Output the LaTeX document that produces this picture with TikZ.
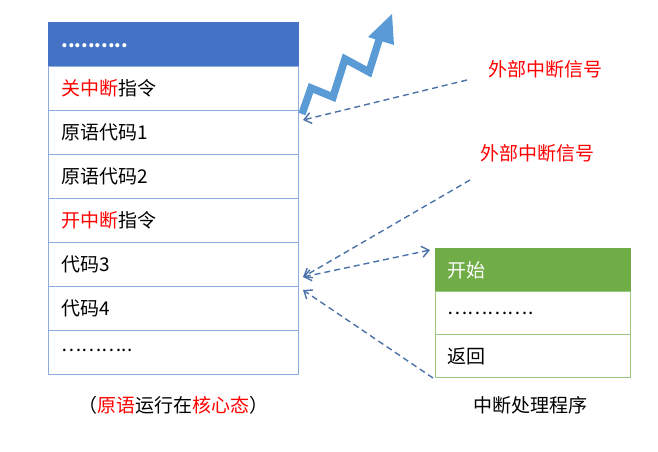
\documentclass[tikz,border=0pt]{standalone}
\usepackage{fontspec}
\setmainfont{Noto Sans CJK SC}
\usetikzlibrary{arrows.meta}
\definecolor{hdr}{HTML}{4472C4}
\definecolor{grn}{HTML}{70AD47}
\definecolor{ln}{HTML}{8FAADC}
\definecolor{dsh}{HTML}{4A72A8}
\definecolor{bolt}{HTML}{5B9BD5}
\tikzset{
 cell/.style={draw=ln,line width=0.8pt,minimum width=250pt,minimum height=44pt,anchor=north west,inner sep=0pt,align=left},
 rcell/.style={draw=grn!70,line width=0.8pt,minimum width=195pt,minimum height=43pt,anchor=north west},
 da/.style={dash pattern=on 6pt off 4pt,line width=1.4pt,draw=dsh,-{Straight Barb[length=7pt,width=11pt]}},
 lbl/.style={font=\fontsize{19}{22}\selectfont}
}
\begin{document}
\begin{tikzpicture}[x=1pt,y=-1pt]
\useasboundingbox (0,0) rectangle (658,451);
\node[cell,fill=hdr,draw=hdr,text=white] (h) at (48,22) {};
\node[white,font=\fontsize{19}{22}\selectfont\bfseries,anchor=west] at (58,46) {..........};
\foreach \i/\t in {1/{\textcolor{red}{关中断}指令},2/{原语代码1},3/{原语代码2},4/{\textcolor{red}{开中断}指令},5/{代码3},6/{代码4},7/{}}{
 \node[cell] (r\i) at (48,{22+44*\i}) {};
 \node[lbl,anchor=west] (t\i) at (58,{44+44*\i}) {\t};
}
\node[lbl,anchor=west] at (58,350) {………..};
\node[rcell,fill=grn,draw=grn] (g1) at (435,248) {};
\node[lbl,anchor=west,text=white] at (444,270) {开始};
\node[rcell] (g2) at (435,291) {};
\node[lbl,anchor=west] at (444,313) {………….};
\node[rcell] (g3) at (435,334) {};
\node[lbl,anchor=west] at (444,356) {返回};
\node[lbl] (cap1) at (173,405) {（\textcolor{red}{原语}运行在\textcolor{red}{核心态}）};
\node[lbl] (cap2) at (530,405) {中断处理程序};
\node[lbl,red] (s1) at (545,69) {外部中断信号};
\node[lbl,red] (s2) at (537,153) {外部中断信号};
\coordinate (p1) at (303,120);
\coordinate (p2) at (303,277);
\coordinate (p3) at (303,290);
\draw[da] (467,80) -- (p1);
\draw[da] (470,180) -- (p2);
\draw[da,{Straight Barb[length=7pt,width=11pt]}-{Straight Barb[length=7pt,width=11pt]}] (p2) -- (430,250);
\draw[da] (433,378) -- (p3);
\draw[bolt,line width=7.5pt,line join=miter] (302,114) -- (311,88) -- (333,97) -- (345,59) -- (369,72) -- (379,40);
\fill[bolt] (368,37) -- (392,14) -- (394,45) -- cycle;
\end{tikzpicture}
\end{document}
